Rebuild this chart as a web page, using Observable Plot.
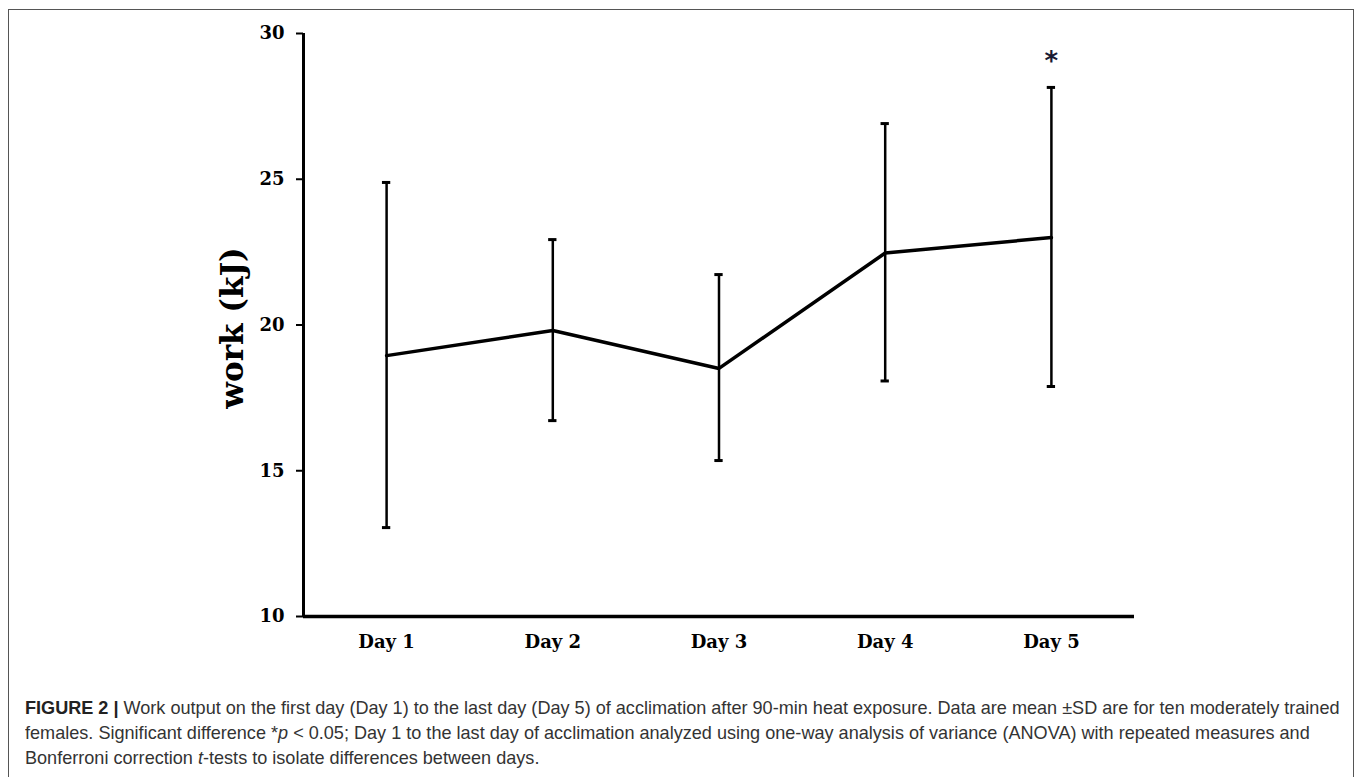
<!DOCTYPE html>
<html>
<head>
<meta charset="utf-8">
<script src="https://cdn.jsdelivr.net/npm/d3@7"></script>
<script src="https://cdn.jsdelivr.net/npm/@observablehq/plot@0.6"></script>
<style>
  html, body { margin: 0; padding: 0; background: #fff; width: 1358px; height: 777px; overflow: hidden; }
  #frame { position: absolute; left: 8px; top: 9px; width: 1346px; height: 800px; border: 1.5px solid #555; box-sizing: border-box; }
  #chart { position: absolute; left: 0; top: 0; }
  #caption { position: absolute; left: 25px; top: 695px; font-family: "Liberation Sans", Arial, sans-serif; font-size: 18.5px; line-height: 25px; color: #333; transform-origin: 0 0; }
  #caption div { white-space: nowrap; }
  #caption b { color: #222; }
</style>
</head>
<body>
<div id="frame"></div>
<div id="chart"></div>
<div id="caption">
  <div id="cap1"><b>FIGURE 2 |</b> Work output on the first day (Day 1) to the last day (Day 5) of acclimation after 90-min heat exposure. Data are mean ±SD are for ten moderately trained</div>
  <div>females. Significant difference *<i>p</i> &lt; 0.05; Day 1 to the last day of acclimation analyzed using one-way analysis of variance (ANOVA) with repeated measures and</div>
  <div>Bonferroni correction <i>t</i>-tests to isolate differences between days.</div>
</div>
<script>
const days = ["Day 1", "Day 2", "Day 3", "Day 4", "Day 5"];
const meanWork = [18.95, 19.81, 18.51, 22.47, 23.0];
const upperSD = [24.89, 22.93, 21.73, 26.91, 28.15];
const lowerSD = [13.05, 16.72, 15.35, 18.08, 17.89];
const yTicks = [10, 15, 20, 25, 30];
const significantDays = ["Day 5"];
const yLabel = "work (kJ)";

const data = days.map((day, i) => ({day, i, mean: meanWork[i], hi: upperSD[i], lo: lowerSD[i]}));
const sig = data.filter(d => significantDays.includes(d.day));
const serif = "'DejaVu Serif', Georgia, serif";

const chart = Plot.plot({
  width: 1358,
  height: 680,
  marginLeft: 303,
  marginRight: 224,
  marginTop: 33,
  marginBottom: 64,
  style: {background: "transparent", color: "#000"},
  x: {domain: [-0.5, days.length - 0.5]},
  y: {domain: [yTicks[0], yTicks[yTicks.length - 1]]},
  marks: [
    Plot.axisY({ticks: yTicks, tickSize: 7, tickPadding: 12, fontSize: 18, fontWeight: "bold", fontFamily: serif, label: null, strokeWidth: 2}),
    Plot.axisX({ticks: days.map((d, i) => i), tickFormat: i => days[i], tickSize: 0, tickPadding: 19, fontSize: 18, fontWeight: "bold", fontFamily: serif, label: null}),
    Plot.ruleX([-0.5], {y1: yTicks[0], y2: yTicks[yTicks.length - 1], strokeWidth: 3}),
    Plot.ruleY([yTicks[0]], {x1: -0.5, x2: days.length - 0.5, strokeWidth: 3.5}),
    Plot.ruleX(data, {x: "i", y1: "lo", y2: "hi", strokeWidth: 2.5}),
    Plot.ruleY(data, {y: "hi", x1: d => d.i - 0.025, x2: d => d.i + 0.025, strokeWidth: 3}),
    Plot.ruleY(data, {y: "lo", x1: d => d.i - 0.025, x2: d => d.i + 0.025, strokeWidth: 3}),
    Plot.line(data, {x: "i", y: "mean", strokeWidth: 3.5, stroke: "#000"}),
    Plot.text(sig, {x: "i", y: "hi", text: () => "*", dy: -26, fontSize: 26, fontWeight: "bold", fill: "#1a1a33", fontFamily: "'DejaVu Sans', sans-serif"}),
    Plot.text([yLabel], {frameAnchor: "left", textAnchor: "middle", dx: -70, dy: 3, rotate: -90, fontSize: 31, fontWeight: "bold", fontFamily: serif, fill: "#000"})
  ]
});
document.getElementById("chart").appendChild(chart);

const cap = document.getElementById("caption");
const w = document.getElementById("cap1").scrollWidth;
if (w > 0) cap.style.transform = `scaleX(${1315 / w})`;
</script>
</body>
</html>
